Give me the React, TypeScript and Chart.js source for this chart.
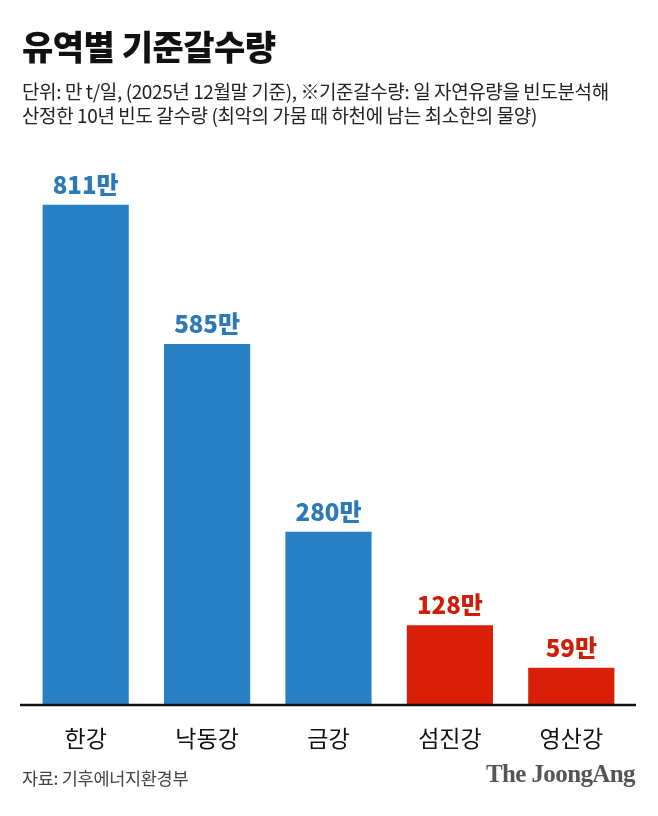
import React, { useEffect, useRef } from "react";
import { Chart, registerables } from "chart.js";

Chart.register(...registerables);

const categories = ["한강", "낙동강", "금강", "섬진강", "영산강"];
const values = [811, 585, 280, 128, 59];
const valueLabels = ["811만", "585만", "280만", "128만", "59만"];
const barColors = ["#2A80C5", "#2A80C5", "#2A80C5", "#D91F07", "#D91F07"];
const labelColors = ["#2C79B8", "#2C79B8", "#2C79B8", "#CF1E08", "#CF1E08"];

const FONT = "'Noto Sans CJK KR', 'Noto Sans', sans-serif";

export default function App() {
  const ref = useRef<HTMLCanvasElement>(null);
  useEffect(() => {
    document.body.style.margin = "0";
    const labelPlugin = {
      id: "valueLabels",
      afterDatasetsDraw(chart: any) {
        const ctx = chart.ctx;
        const meta = chart.getDatasetMeta(0);
        const area = chart.chartArea;
        ctx.save();
        ctx.strokeStyle = "#111";
        ctx.lineWidth = 2.5;
        ctx.beginPath();
        ctx.moveTo(20, area.bottom + 1);
        ctx.lineTo(636, area.bottom + 1);
        ctx.stroke();
        ctx.font = `900 24px ${FONT}`;
        ctx.textAlign = "center";
        ctx.textBaseline = "alphabetic";
        meta.data.forEach((bar: any, i: number) => {
          ctx.fillStyle = labelColors[i];
          ctx.fillText(valueLabels[i], bar.x, bar.y - 11);
        });
        ctx.restore();
      },
    };
    const chart = new Chart(ref.current!, {
      type: "bar",
      data: {
        labels: categories,
        datasets: [
          {
            data: values,
            backgroundColor: barColors,
            barPercentage: 0.71,
            categoryPercentage: 1,
          },
        ],
      },
      options: {
        responsive: false,
        animation: false,
        layout: { padding: { top: 150, left: 25, right: 26, bottom: 0 } },
        plugins: { legend: { display: false }, tooltip: { enabled: false } },
        scales: {
          x: {
            grid: { display: false },
            border: { display: false },
            ticks: {
              color: "#111",
              font: { family: FONT, size: 23 },
              padding: 12,
            },
            afterFit(scale: any) {
              scale.height = 112;
            },
          },
          y: {
            display: false,
            min: 0,
            max: 900,
          },
        },
      },
      plugins: [labelPlugin],
    });
    return () => chart.destroy();
  }, []);

  return (
    <div style={{ position: "relative", width: 658, height: 816, background: "#fff", fontFamily: FONT }}>
      <canvas ref={ref} width={658} height={816} style={{ position: "absolute", left: 0, top: 0 }} />
      <div style={{ position: "absolute", left: 22, top: 21, fontSize: 34, fontWeight: 900, color: "#111", letterSpacing: -0.5 }}>
        유역별 기준갈수량
      </div>
      <div style={{ position: "absolute", left: 22, top: 79, fontSize: 19, color: "#222", lineHeight: "24px", letterSpacing: -0.4 }}>
        단위: 만 t/일, (2025년 12월말 기준), ※기준갈수량: 일 자연유량을 빈도분석해
        <br />
        산정한 10년 빈도 갈수량 (최악의 가뭄 때 하천에 남는 최소한의 물양)
      </div>
      <div style={{ position: "absolute", left: 22, top: 765, fontSize: 17.5, color: "#444", letterSpacing: -0.3 }}>
        자료: 기후에너지환경부
      </div>
      <div style={{ position: "absolute", right: 23, top: 760, fontSize: 25, color: "#555", fontWeight: 700, fontFamily: "'Liberation Serif', 'DejaVu Serif', serif", letterSpacing: -0.6 }}>
        The JoongAng
      </div>
    </div>
  );
}
